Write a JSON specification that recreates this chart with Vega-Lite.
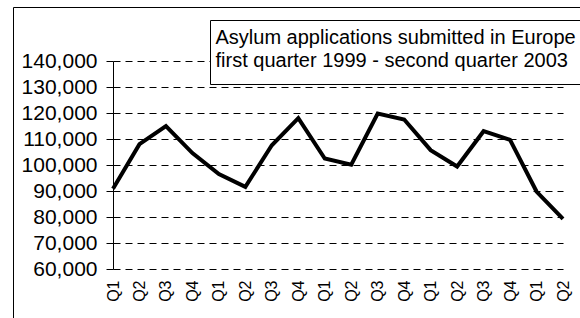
{
  "$schema": "https://vega.github.io/schema/vega-lite/v6.json",
  "autosize": "none",
  "padding": {"left": 13, "top": 7, "right": 0, "bottom": 0},
  "width": 567,
  "height": 311,
  "background": "white",
  "config": {
    "font": "Liberation Sans",
    "view": {"stroke": "black", "strokeWidth": 1}
  },
  "data": {
    "values": [
      {"period": "1999-Q1", "value": 90900},
      {"period": "1999-Q2", "value": 108000},
      {"period": "1999-Q3", "value": 115000},
      {"period": "1999-Q4", "value": 104600},
      {"period": "2000-Q1", "value": 96500},
      {"period": "2000-Q2", "value": 91600},
      {"period": "2000-Q3", "value": 107600},
      {"period": "2000-Q4", "value": 118000},
      {"period": "2001-Q1", "value": 102500},
      {"period": "2001-Q2", "value": 100100},
      {"period": "2001-Q3", "value": 119800},
      {"period": "2001-Q4", "value": 117500},
      {"period": "2002-Q1", "value": 105700},
      {"period": "2002-Q2", "value": 99400},
      {"period": "2002-Q3", "value": 113000},
      {"period": "2002-Q4", "value": 109700},
      {"period": "2003-Q1", "value": 89800},
      {"period": "2003-Q2", "value": 79300}
    ]
  },
  "mark": {"type": "line", "strokeWidth": 4, "strokeJoin": "miter"},
  "encoding": {
    "x": {
      "field": "period",
      "type": "ordinal",
      "sort": null,
      "scale": {"type": "point", "range": [100, 550], "padding": 0},
      "axis": {
        "title": null,
        "orient": "bottom",
        "offset": -49,
        "domain": false,
        "ticks": false,
        "grid": false,
        "labelAngle": 270,
        "labelPadding": 11,
        "labelFontSize": 16,
        "labelColor": "black",
        "labelExpr": "substring(datum.label, 5)"
      }
    },
    "y": {
      "field": "value",
      "type": "quantitative",
      "scale": {"domain": [60000, 140000], "range": [262, 54], "zero": false, "nice": false},
      "axis": {
        "title": null,
        "offset": -100,
        "values": [60000, 70000, 80000, 90000, 100000, 110000, 120000, 130000, 140000],
        "format": ",d",
        "domainColor": "black",
        "tickColor": "black",
        "tickSize": 7,
        "labelPadding": 9,
        "labelFontSize": 21,
        "labelColor": "black",
        "grid": true,
        "gridColor": "black",
        "gridDash": [7, 5],
        "gridWidth": 1
      }
    },
    "color": {
      "datum": "Asylum applications",
      "scale": {"range": ["black"]},
      "legend": {
        "title": ["Asylum applications submitted in Europe", "first quarter 1999 - second quarter 2003"],
        "orient": "none",
        "legendX": 197,
        "legendY": 13,
        "strokeColor": "black",
        "fillColor": "white",
        "padding": 5.5,
        "titleFontSize": 20,
        "titleFontWeight": "normal",
        "titleColor": "black",
        "titleAlign": "left",
        "titleAnchor": "start",
        "titleBaseline": "line-top",
        "titleLimit": 1000,
        "titleLineHeight": 23.5,
        "titlePadding": 9,
        "symbolSize": 0,
        "symbolOpacity": 0,
        "symbolStrokeWidth": 0,
        "labelOpacity": 0,
        "labelFontSize": 1,
        "labelLimit": 5
      }
    }
  }
}
